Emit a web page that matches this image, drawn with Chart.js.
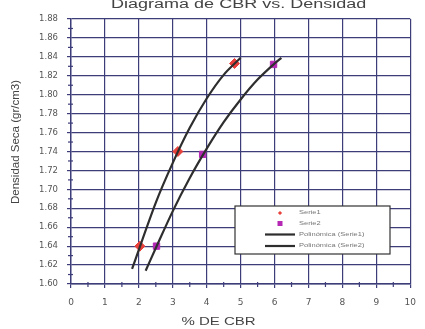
<!DOCTYPE html>
<html>
<head>
<meta charset="utf-8">
<script src="https://cdn.jsdelivr.net/npm/chart.js@4/dist/chart.umd.min.js"></script>
<style>
html,body{margin:0;padding:0;background:#fff;}
#wrap{width:425px;height:329px;}
</style>
</head>
<body>
<div id="wrap"><canvas id="c" width="425" height="329"></canvas></div>
<script>
const chartTitle = "Diagrama de CBR vs. Densidad";
const xTitle = "% DE CBR";
const yTitle = "Densidad Seca (gr/cm3)";
const xTicks = [0,1,2,3,4,5,6,7,8,9,10];
const yMin = 1.60, yMax = 1.88, yStep = 0.02;

const cbr1 = [2.03, 3.15, 4.82];
const dens1 = [1.640, 1.740, 1.833];
const cbr2 = [2.52, 3.88, 5.97];
const dens2 = [1.640, 1.737, 1.832];

const trend1X = [1.8, 2.5, 3.0, 3.5, 4.0, 4.5, 5.0];
const trend1Y = [1.616, 1.686, 1.728, 1.765, 1.796, 1.821, 1.839];
const trend2X = [2.2, 2.5, 3.0, 3.5, 4.0, 4.5, 5.0, 5.5, 6.0, 6.2];
const trend2Y = [1.614, 1.638, 1.677, 1.712, 1.743, 1.771, 1.795, 1.816, 1.833, 1.839];

const seriesLabels = ["Serie1", "Serie2", "Polinómica (Serie1)", "Polinómica (Serie2)"];

const pts = (xs, ys) => xs.map((x, i) => ({x: x, y: ys[i]}));

const GRID = '#3d3d7a';
const TXT = '#555';

function stretchText(ctx, text, x, y, size, align, sx, color, rot) {
  ctx.save();
  ctx.translate(x, y);
  if (rot) ctx.rotate(rot);
  ctx.scale(sx, 1);
  ctx.font = size + 'px "Liberation Sans", Arial, sans-serif';
  ctx.fillStyle = color;
  ctx.textAlign = align;
  ctx.textBaseline = 'middle';
  ctx.fillText(text, 0, 0);
  ctx.restore();
}

const decor = {
  id: 'decor',
  afterDraw(chart) {
    const ctx = chart.ctx;
    const ca = chart.chartArea;
    const xs = chart.scales.x, ys = chart.scales.y;
    ctx.save();
    ctx.strokeStyle = GRID;
    ctx.lineWidth = 1.2;
    for (let i = 0; i < xTicks.length - 1; i++) {
      const px = xs.getPixelForValue((xTicks[i] + xTicks[i+1]) / 2);
      ctx.beginPath(); ctx.moveTo(px, ca.bottom - 2); ctx.lineTo(px, ca.bottom + 3); ctx.stroke();
    }
    for (let v = yMin + yStep/2; v < yMax; v += yStep) {
      const py = ys.getPixelForValue(v);
      ctx.beginPath(); ctx.moveTo(ca.left - 3, py); ctx.lineTo(ca.left + 2, py); ctx.stroke();
    }
    ctx.restore();
    stretchText(ctx, chartTitle, (ca.left + ca.right) / 2 - 2, 5, 12, 'center', 1.5, '#444');
    stretchText(ctx, xTitle, ca.left + (ca.right - ca.left) * 0.435, 322, 10, 'center', 1.5, '#444');
    stretchText(ctx, yTitle, 16, 142, 11.5, 'center', 1.0, '#444', -Math.PI / 2);
    const bx = 235, by = 206, bw = 155, bh = 48;
    ctx.save();
    ctx.fillStyle = '#fff';
    ctx.fillRect(bx, by, bw, bh);
    ctx.strokeStyle = '#333';
    ctx.lineWidth = 1.2;
    ctx.strokeRect(bx, by, bw, bh);
    const rows = [213, 223.5, 234.5, 246];
    const ds = chart.data.datasets;
    ctx.fillStyle = ds[0].pointBackgroundColor;
    ctx.save(); ctx.translate(280, rows[0]); ctx.rotate(Math.PI/4); ctx.fillRect(-1.5, -1.5, 3, 3); ctx.restore();
    ctx.fillStyle = ds[1].pointBackgroundColor;
    ctx.fillRect(277.5, rows[1] - 2.5, 5, 5);
    ctx.strokeStyle = ds[2].borderColor;
    ctx.lineWidth = 2.2;
    for (let k = 2; k < 4; k++) {
      ctx.beginPath(); ctx.moveTo(265, rows[k]); ctx.lineTo(295, rows[k]); ctx.stroke();
    }
    ctx.restore();
    for (let k = 0; k < 4; k++) {
      stretchText(ctx, ds[k].label, 299, rows[k], 5, 'left', 1.5, '#777');
    }
  }
};

new Chart(document.getElementById('c'), {
  type: 'scatter',
  data: {
    datasets: [
      {label: seriesLabels[0], data: pts(cbr1, dens1), showLine: false,
       pointStyle: 'rectRot', pointRadius: 5, backgroundColor: '#e8403a',
       pointBackgroundColor: '#e8403a', pointBorderColor: '#e8403a', order: 1},
      {label: seriesLabels[1], data: pts(cbr2, dens2), showLine: false,
       pointStyle: 'rect', pointRadius: 4.5, backgroundColor: '#b428b4',
       pointBackgroundColor: '#b428b4', pointBorderColor: '#b428b4', order: 1},
      {label: seriesLabels[2], data: pts(trend1X, trend1Y), showLine: true,
       borderColor: '#2e2e2e', borderWidth: 2.2, pointRadius: 0, tension: 0.3, order: 0},
      {label: seriesLabels[3], data: pts(trend2X, trend2Y), showLine: true,
       borderColor: '#2e2e2e', borderWidth: 2.2, pointRadius: 0, tension: 0.3, order: 0}
    ]
  },
  options: {
    responsive: false,
    animation: false,
    devicePixelRatio: 1,
    layout: {padding: {top: 19, right: 9, left: 0, bottom: 0}},
    plugins: {legend: {display: false}, title: {display: false}, tooltip: {enabled: false}},
    scales: {
      x: {
        type: 'linear', min: 0, max: 10,
        afterBuildTicks: (s) => { s.ticks = xTicks.map(v => ({value: v})); },
        afterFit: (s) => { s.height = 45; },
        grid: {color: GRID, lineWidth: 1.2, tickLength: 4, drawTicks: true},
        border: {color: GRID, width: 1.4},
        ticks: {color: TXT, font: {family: '"DejaVu Sans", sans-serif', size: 9}, padding: 9, maxRotation: 0}
      },
      y: {
        type: 'linear', min: yMin, max: yMax,
        ticks: {stepSize: yStep, color: TXT, font: {family: '"DejaVu Sans", sans-serif', size: 8.5}, padding: 9,
                callback: (v) => Number(v).toFixed(2)},
        afterFit: (s) => { s.width = 71; },
        grid: {color: GRID, lineWidth: 1.2, tickLength: 4},
        border: {color: GRID, width: 1.4}
      }
    }
  },
  plugins: [decor]
});
</script>
</body>
</html>
